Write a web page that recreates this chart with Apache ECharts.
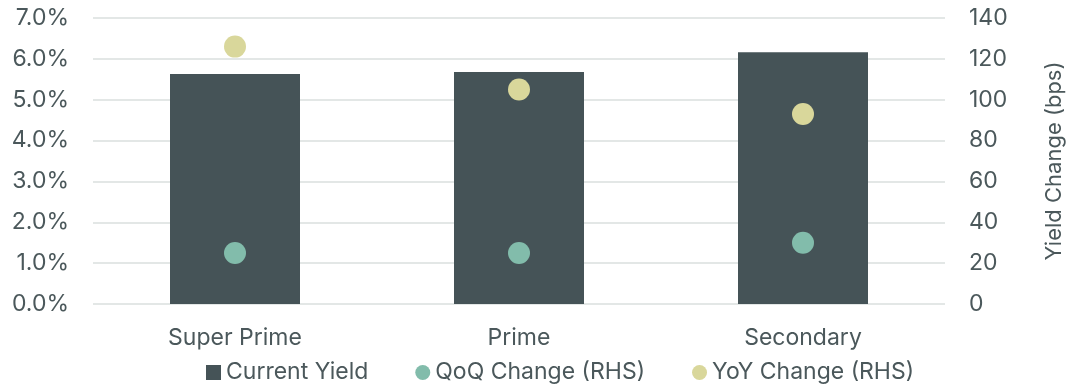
<!DOCTYPE html>
<html>
<head>
<meta charset="utf-8">
<script src="https://cdn.jsdelivr.net/npm/echarts@6/dist/echarts.min.js"></script>
<style>
  html, body { margin: 0; padding: 0; background: #fff; }
  #chart { width: 1066px; height: 386px; }
</style>
</head>
<body>
<div id="chart"></div>
<script>
// data
var categories = ['Super Prime', 'Prime', 'Secondary'];
var currentYield = [5.63, 5.68, 6.16];   // %
var qoqChange = [25, 25, 30];            // bps (RHS)
var yoyChange = [126, 105, 93];          // bps (RHS)

var textColor = '#4b585b';
var font = 'Inter, "Noto Sans", sans-serif';

var chart = echarts.init(document.getElementById('chart'));
chart.setOption({
  animation: false,
  textStyle: { fontFamily: font },
  grid: { left: 93, right: 121, top: 18, bottom: 82, outerBoundsMode: 'none', containLabel: false },
  legend: {
    top: 356,
    left: 201,
    itemWidth: 15,
    itemHeight: 15,
    itemGap: 47,
    textStyle: { fontSize: 23, color: textColor, fontFamily: font },
    data: [
      { name: 'Current Yield', icon: 'rect' },
      { name: 'QoQ Change (RHS)', icon: 'circle' },
      { name: 'YoY Change (RHS)', icon: 'circle' }
    ]
  },
  xAxis: {
    type: 'category',
    data: categories,
    axisLine: { show: false },
    axisTick: { show: false },
    axisLabel: { fontSize: 23, color: textColor, margin: 23 }
  },
  yAxis: [{
    type: 'value',
    min: 0,
    max: 7,
    interval: 1,
    axisLine: { show: false },
    axisTick: { show: false },
    splitLine: { lineStyle: { color: '#e3e7e6', width: 2 } },
    axisLabel: {
      fontSize: 23, color: textColor, margin: 24,
      formatter: function (v) { return v.toFixed(1) + '%'; }
    }
  }, {
    type: 'value',
    min: 0,
    max: 140,
    interval: 20,
    name: 'Yield Change (bps)',
    nameLocation: 'middle',
    nameRotate: 90,
    nameGap: 98,
    nameTextStyle: { fontSize: 22, color: textColor },
    axisLine: { show: false },
    axisTick: { show: false },
    splitLine: { show: false },
    axisLabel: { fontSize: 23, color: textColor, margin: 24 }
  }],
  series: [{
    name: 'Current Yield',
    type: 'bar',
    data: currentYield,
    barWidth: 130,
    itemStyle: { color: '#455357' }
  }, {
    name: 'QoQ Change (RHS)',
    type: 'scatter',
    yAxisIndex: 1,
    data: qoqChange,
    symbolSize: 22,
    itemStyle: { color: '#82bcab', opacity: 1 }
  }, {
    name: 'YoY Change (RHS)',
    type: 'scatter',
    yAxisIndex: 1,
    data: yoyChange,
    symbolSize: 22,
    itemStyle: { color: '#d9d79b', opacity: 1 }
  }]
});
</script>
</body>
</html>
